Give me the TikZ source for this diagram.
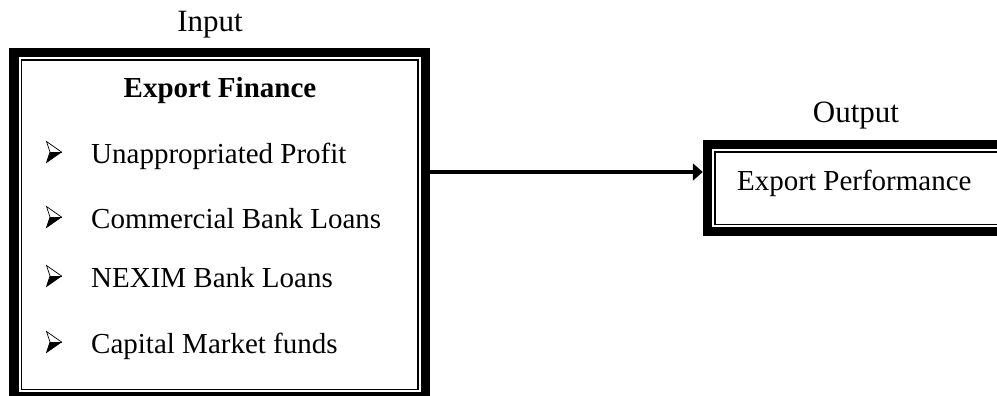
\documentclass[tikz,border=0pt]{standalone}
\usepackage{fontspec}
\setmainfont{Liberation Serif}
\usetikzlibrary{arrows.meta}
\begin{document}
\begin{tikzpicture}[x=1pt,y=-1pt,
  thickbox/.style={draw=black, line width=9.5pt, inner sep=0pt},
  thinframe/.style={draw=black, line width=1.5pt},
  lbl/.style={inner sep=0pt, font=\fontsize{29}{34}\selectfont},
  biglbl/.style={inner sep=0pt, font=\fontsize{31}{36}\selectfont},
  conn/.style={line width=3.5pt, -{Triangle[length=10pt,width=17pt]}},
  arrowbullet/.pic={
    \fill[black] (3.5,0) -- (15,0) -- (0,10.5) -- cycle;
    \draw[line width=0.7pt, line join=miter] (0,-10.5) -- (15,0) -- (0,10.5) -- (3.5,0) -- cycle;
    \draw[line width=0.7pt] (3.5,0) -- (15,0);
  }]
\useasboundingbox (0,0) rectangle (997,396);
\clip (0,0) rectangle (997,396);

% Input box
\node[thickbox, minimum width=411.5pt, minimum height=344pt] (fin) at (219.5,224.75) {};
\draw[thinframe] (21.25,60.25) rectangle (417.75,389.25);

% Output box
\node[thickbox, minimum width=302.5pt, minimum height=87pt] (perf) at (858.75,188) {};
\draw[thinframe] (714.75,151.75) rectangle (1010,224.25);

% Labels
\node[biglbl, anchor=base] (inp) at (210,32) {Input};
\node[biglbl, anchor=base] (outp) at (856,123) {Output};
\node[lbl, anchor=base, font=\fontsize{29}{34}\selectfont\bfseries] (ef) at (220,98) {Export Finance};
\node[lbl, anchor=base west] (b1) at (91,163) {Unappropriated Profit};
\node[lbl, anchor=base west] (b2) at (91,228) {Commercial Bank Loans};
\node[lbl, anchor=base west] (b3) at (91,287) {NEXIM Bank Loans};
\node[lbl, anchor=base west] (b4) at (91,353) {Capital Market funds};
\node[lbl, anchor=base west] (ep) at (737,190) {Export Performance};

% Bullets
\pic at (46.5,152) {arrowbullet};
\pic at (46.5,217) {arrowbullet};
\pic at (46.5,276) {arrowbullet};
\pic at (46.5,342) {arrowbullet};

% Connector
\coordinate (ay) at (0,172);
\draw[conn] (fin.east |- ay) -- (perf.west |- ay);
\end{tikzpicture}
\end{document}
